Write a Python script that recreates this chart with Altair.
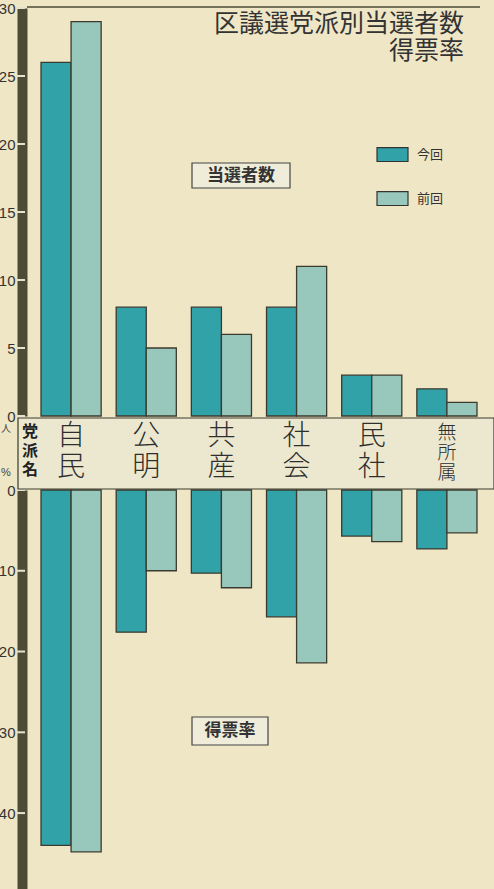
import altair as alt
import pandas as pd

# ---- data ----
parties = ["自民", "公明", "共産", "社会", "民社", "無所属"]
party_stacked = ["自\n民", "公\n明", "共\n産", "社\n会", "民\n社", "無\n所\n属"]
series = ["今回", "前回"]
seats_now = [26, 8, 8, 8, 3, 2]
seats_prev = [29, 5, 6, 11, 3, 1]
vote_now = [44.0, 17.6, 10.3, 15.7, 5.7, 7.3]
vote_prev = [44.8, 10.0, 12.1, 21.4, 6.4, 5.3]
seat_ticks = [0, 5, 10, 15, 20, 25, 30]
vote_ticks = [0, 10, 20, 30, 40]
title_lines = ["区議選党派別当選者数", "得票率"]

FONT = "Noto Sans CJK JP"
BG = "#efe6c6"
DARK = "#3b3a2e"
COL_NOW = "#31a2a8"
COL_PREV = "#98c8bc"

seats_df = pd.DataFrame(
    [{"party": p, "series": "今回", "value": v} for p, v in zip(parties, seats_now)]
    + [{"party": p, "series": "前回", "value": v} for p, v in zip(parties, seats_prev)]
)
vote_df = pd.DataFrame(
    [{"party": p, "series": "今回", "value": v} for p, v in zip(parties, vote_now)]
    + [{"party": p, "series": "前回", "value": v} for p, v in zip(parties, vote_prev)]
)
names_df = pd.DataFrame({"party": parties, "label": party_stacked})
one = pd.DataFrame({"k": [0]})

xenc = alt.X(
    "party:N",
    sort=parties,
    scale=alt.Scale(domain=parties, range=[33.5, 484.5], paddingInner=0.2, paddingOuter=0.1),
    axis=None,
)
xoff = alt.XOffset("series:N", sort=series, scale=alt.Scale(domain=series, paddingInner=0, paddingOuter=0))
legend = alt.Legend(
    orient="none",
    legendX=376,
    legendY=138,
    title=None,
    symbolType="M-1,-0.45H1V0.45H-1Z",
    symbolSize=961,
    symbolStrokeColor="#333",
    symbolStrokeWidth=1.2,
    symbolOpacity=1,
    labelFont=FONT,
    labelFontSize=13,
    labelColor="#333",
    labelOffset=8,
    rowPadding=18,
    padding=0,
)
color = alt.Color("series:N", sort=series,
                  scale=alt.Scale(domain=series, range=[COL_NOW, COL_PREV]), legend=legend)

axis_common = dict(
    orient="left",
    offset=-22,
    domainWidth=10,
    domainColor="#4d4a36",
    ticks=False,
    labelFont="Liberation Sans",
    labelFontSize=15,
    labelColor="#333",
    labelPadding=7,
    grid=False,
    title=None,
    labelFlush=False,
)
TICK_COLOR = "#e6e2cc"

top_bars = alt.Chart(seats_df).mark_bar(stroke=DARK, strokeWidth=1.3, opacity=1).encode(
    x=xenc,
    xOffset=xoff,
    y=alt.Y("value:Q", scale=alt.Scale(domain=[0, 30], range=[416, 8], nice=False),
            axis=alt.Axis(values=seat_ticks, **axis_common)),
    color=color,
)
top_ticks = alt.Chart(pd.DataFrame({"value": seat_ticks})).mark_rule(
    color=TICK_COLOR, strokeWidth=2
).encode(x=alt.value(16), x2=alt.value(25), y="value:Q")

bottom_bars = alt.Chart(vote_df).mark_bar(stroke=DARK, strokeWidth=1.3, opacity=1).encode(
    x=xenc,
    xOffset=xoff,
    y=alt.Y("value:Q", scale=alt.Scale(domain=[0, 49.4], range=[490, 889], nice=False),
            axis=alt.Axis(values=vote_ticks, **axis_common)),
    color=color,
)
bottom_ticks = alt.Chart(pd.DataFrame({"value": vote_ticks})).mark_rule(
    color=TICK_COLOR, strokeWidth=2
).encode(x=alt.value(16), x2=alt.value(25), y="value:Q")

top_panel = alt.layer(top_bars, top_ticks)
bottom_panel = alt.layer(bottom_bars, bottom_ticks)

band = alt.Chart(one).mark_rect(fill="#ece8d0", stroke=DARK, strokeWidth=1.2).encode(
    x=alt.value(18), x2=alt.value(494), y=alt.value(418), y2=alt.value(489)
)

names2 = alt.Chart(names_df).transform_filter(alt.datum.party != "無所属").mark_text(
    font=FONT, fontSize=28, fontWeight=300, lineBreak="\n", lineHeight=31,
    baseline="top", align="center", color="#2e2e2e",
).encode(x=xenc, y=alt.value(423), text="label:N")

names3 = alt.Chart(names_df).transform_filter(alt.datum.party == "無所属").mark_text(
    font=FONT, fontSize=19, fontWeight=300, lineBreak="\n", lineHeight=20,
    baseline="top", align="center", color="#2e2e2e",
).encode(x=xenc, y=alt.value(424), text="label:N")

party_hdr = alt.Chart(pd.DataFrame({"t": ["党\n派\n名"]})).mark_text(
    font=FONT, fontSize=16, fontWeight="bold", lineBreak="\n", lineHeight=19,
    baseline="top", align="center", color="#222",
).encode(x=alt.value(30), y=alt.value(424), text="t:N")

unit_top = alt.Chart(pd.DataFrame({"t": ["人"]})).mark_text(
    font=FONT, fontSize=10, color="#444", align="center", baseline="middle"
).encode(x=alt.value(6), y=alt.value(429), text="t:N")
unit_bot = alt.Chart(pd.DataFrame({"t": ["%"]})).mark_text(
    font="Liberation Sans", fontSize=11, color="#444", align="center", baseline="middle"
).encode(x=alt.value(6), y=alt.value(473), text="t:N")

top_rule = alt.Chart(one).mark_rule(color="#4a4838", strokeWidth=1.5).encode(
    x=alt.value(27), x2=alt.value(480), y=alt.value(7)
)

title1 = alt.Chart(pd.DataFrame({"t": [title_lines[0]]})).mark_text(
    font=FONT, fontSize=25, align="right", baseline="alphabetic", color="#333"
).encode(x=alt.value(464), y=alt.value(32), text="t:N")
title2 = alt.Chart(pd.DataFrame({"t": [title_lines[1]]})).mark_text(
    font=FONT, fontSize=25, align="right", baseline="alphabetic", color="#333"
).encode(x=alt.value(464), y=alt.value(59), text="t:N")

box1 = alt.Chart(one).mark_rect(fill="#efecd9", stroke="#444", strokeWidth=1.2).encode(
    x=alt.value(192), x2=alt.value(290), y=alt.value(163), y2=alt.value(188)
)
lab1 = alt.Chart(pd.DataFrame({"t": ["当選者数"]})).mark_text(
    font=FONT, fontSize=17, fontWeight="bold", color="#333", align="center", baseline="middle"
).encode(x=alt.value(241), y=alt.value(176), text="t:N")
box2 = alt.Chart(one).mark_rect(fill="#efecd9", stroke="#444", strokeWidth=1.2).encode(
    x=alt.value(192), x2=alt.value(268), y=alt.value(717), y2=alt.value(745)
)
lab2 = alt.Chart(pd.DataFrame({"t": ["得票率"]})).mark_text(
    font=FONT, fontSize=17, fontWeight="bold", color="#333", align="center", baseline="middle"
).encode(x=alt.value(230), y=alt.value(731), text="t:N")

chart = alt.layer(
    top_panel, bottom_panel, band, names2, names3, party_hdr, unit_top, unit_bot,
    top_rule, title1, title2, box1, lab1, box2, lab2,
).resolve_scale(y="independent").properties(
    width=494, height=889, background=BG, padding=0,
    autosize=alt.AutoSizeParams(type="none"),
).configure_view(stroke=None)

chart.save("out.html", embed_options={"renderer": "svg", "actions": False})
